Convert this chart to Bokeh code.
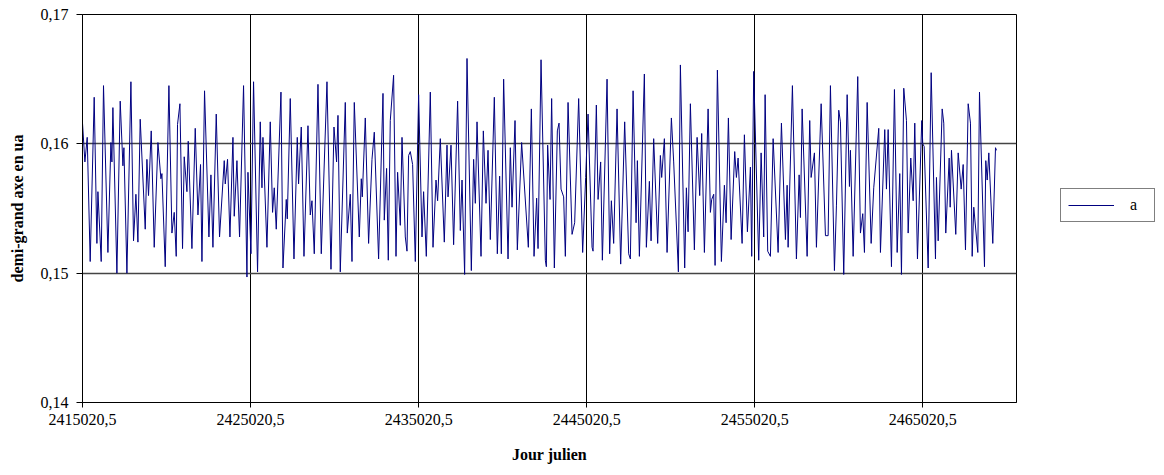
from bokeh.plotting import figure
from bokeh.layouts import row
from bokeh.models import Range1d, FixedTicker, CustomJSTickFormatter, Legend, LegendItem
from bokeh.embed import file_html
from bokeh.resources import INLINE

# Jour julien = JD0 + day offset
JD0 = 2415020.5
day_offset = [
    0, 143, 280, 458, 696, 857, 917, 1113, 1250, 1512,
    1690, 1750, 1809, 2047, 2244, 2405, 2464, 2643, 2881, 3036,
    3178, 3297, 3434, 3732, 3833, 3928, 4089, 4268, 4488, 4666,
    4726, 4922, 5142, 5321, 5458, 5577, 5654, 5797, 5952, 6053,
    6214, 6291, 6511, 6708, 6869, 7023, 7107, 7261, 7523, 7642,
    7761, 7958, 8154, 8434, 8494, 8630, 8773, 8952, 9029, 9190,
    9345, 9583, 9785, 9845, 10023, 10178, 10416, 10577, 10678, 10737,
    10975, 11172, 11309, 11410, 11529, 11809, 11928, 12124, 12184, 12362,
    12583, 12779, 12856, 13017, 13178, 13416, 13553, 13654, 13791, 14011,
    14207, 14547, 14785, 14963, 15118, 15201, 15338, 15636, 15755, 15934,
    16035, 16172, 16469, 16588, 16648, 16826, 17023, 17225, 17362, 17618,
    17880, 17957, 18094, 18195, 18314, 18511, 18654, 18749, 18910, 19011,
    19207, 19308, 19404, 19505, 19642, 19802, 19999, 20201, 20296, 20457,
    20695, 20856, 21034, 21130, 21290, 21528, 21689, 21749, 21927, 22082,
    22320, 22481, 22582, 22737, 22879, 23136, 23272, 23373, 23475, 23713,
    23850, 24010, 24129, 24266, 24504, 24683, 24820, 24921, 25058, 25320,
    25457, 25558, 25736, 25873, 26129, 26528, 26707, 26867, 27022, 27105,
    27284, 27540, 27600, 27677, 27820, 27915, 28076, 28254, 28355, 28474,
    28629, 28730, 28891, 29129, 29284, 29522, 29760, 29939, 30081, 30319,
    30379, 30575, 30677, 30831, 30933, 31212, 31367, 31468, 31605, 31807,
    32022, 32260, 32498, 32599, 32760, 32938, 33016, 33135, 33432, 33551,
    33730, 33831, 33986, 34224, 34385, 34462, 34623, 34783, 35039, 35176,
    35456, 35575, 35831, 35932, 36033, 36170, 36408, 36569, 36724, 36843,
    37004, 37224, 37361, 37438, 37557, 37640, 37777, 38015, 38194, 38295,
    38432, 38593, 38807, 38908, 39009, 39247, 39384, 39563, 39742, 39819,
    39938, 40236, 40378, 40533, 40616, 40771, 40932, 41093, 41390, 41587,
    41825, 41926, 41985, 42241, 42479, 42640, 42718, 42819, 43116, 43271,
    43354, 43551, 43670, 43950, 44206, 44366, 44503, 44741, 44860, 44997,
    45098, 45295, 45497, 45634, 45693, 45854, 46128, 46289, 46426, 46527,
    46687, 46925, 47080, 47378, 47479, 47735, 47836, 47937, 48134, 48312,
    48473, 48628, 48729, 48866, 49027, 49128, 49283, 49425, 49521, 49681,
    49937, 49997, 50080, 50318, 50497, 50753, 50812, 50913, 51152, 51247,
    51366, 51568, 51628, 51705, 51961, 52104, 52282, 52401, 52538, 52699,
    52836, 52937, 53032, 53272, 53372, 53669, 53747, 53830, 53927, 54163,
    54324, 54384,
]
demi_grand_axe = [
    0.1616, 0.1586, 0.1605, 0.1509, 0.1636, 0.1523, 0.1563, 0.1509, 0.1645, 0.1516,
    0.1601, 0.1586, 0.1628, 0.1500, 0.1633, 0.1583, 0.1597, 0.1500, 0.1648, 0.1525,
    0.1561, 0.1524, 0.1619, 0.1534, 0.1588, 0.1560, 0.1610, 0.1520, 0.1601, 0.1573,
    0.1577, 0.1505, 0.1645, 0.1531, 0.1547, 0.1513, 0.1615, 0.1631, 0.1519, 0.1590,
    0.1563, 0.1602, 0.1519, 0.1612, 0.1545, 0.1584, 0.1509, 0.1641, 0.1528, 0.1576,
    0.1520, 0.1623, 0.1528, 0.1587, 0.1569, 0.1588, 0.1528, 0.1605, 0.1544, 0.1587,
    0.1528, 0.1645, 0.1497, 0.1578, 0.1515, 0.1648, 0.1501, 0.1617, 0.1566, 0.1605,
    0.1520, 0.1617, 0.1547, 0.1566, 0.1534, 0.1640, 0.1504, 0.1557, 0.1542, 0.1635,
    0.1511, 0.1605, 0.1569, 0.1613, 0.1513, 0.1614, 0.1545, 0.1556, 0.1515, 0.1646,
    0.1515, 0.1648, 0.1503, 0.1613, 0.1586, 0.1622, 0.1501, 0.1632, 0.1531, 0.1561,
    0.1509, 0.1632, 0.1528, 0.1573, 0.1559, 0.1620, 0.1523, 0.1588, 0.1609, 0.1511,
    0.1639, 0.1541, 0.1581, 0.1510, 0.1618, 0.1653, 0.1513, 0.1578, 0.1537, 0.1605,
    0.1528, 0.1517, 0.1591, 0.1594, 0.1584, 0.1509, 0.1638, 0.1528, 0.1563, 0.1513,
    0.1640, 0.1520, 0.1572, 0.1556, 0.1604, 0.1524, 0.1599, 0.1559, 0.1599, 0.1522,
    0.1633, 0.1533, 0.1572, 0.1499, 0.1666, 0.1502, 0.1588, 0.1554, 0.1617, 0.1513,
    0.1610, 0.1554, 0.1595, 0.1526, 0.1636, 0.1515, 0.1575, 0.1515, 0.1650, 0.1511,
    0.1597, 0.1551, 0.1618, 0.1518, 0.1601, 0.1520, 0.1627, 0.1513, 0.1558, 0.1519,
    0.1665, 0.1510, 0.1505, 0.1599, 0.1557, 0.1635, 0.1504, 0.1610, 0.1616, 0.1565,
    0.1559, 0.1513, 0.1632, 0.1530, 0.1539, 0.1635, 0.1516, 0.1574, 0.1623, 0.1520,
    0.1517, 0.1630, 0.1557, 0.1586, 0.1510, 0.1650, 0.1515, 0.1556, 0.1523, 0.1627,
    0.1507, 0.1617, 0.1515, 0.1511, 0.1641, 0.1539, 0.1587, 0.1513, 0.1654, 0.1520,
    0.1571, 0.1525, 0.1604, 0.1523, 0.1591, 0.1574, 0.1604, 0.1516, 0.1620, 0.1586,
    0.1501, 0.1661, 0.1504, 0.1566, 0.1532, 0.1631, 0.1518, 0.1605, 0.1560, 0.1608,
    0.1516, 0.1627, 0.1547, 0.1557, 0.1561, 0.1506, 0.1657, 0.1509, 0.1568, 0.1539,
    0.1620, 0.1526, 0.1594, 0.1574, 0.1589, 0.1523, 0.1607, 0.1532, 0.1582, 0.1513,
    0.1656, 0.1510, 0.1593, 0.1528, 0.1638, 0.1517, 0.1513, 0.1604, 0.1516, 0.1616,
    0.1526, 0.1568, 0.1520, 0.1645, 0.1511, 0.1576, 0.1543, 0.1627, 0.1513, 0.1618,
    0.1574, 0.1593, 0.1520, 0.1631, 0.1529, 0.1529, 0.1645, 0.1502, 0.1552, 0.1626,
    0.1617, 0.1499, 0.1638, 0.1567, 0.1595, 0.1513, 0.1652, 0.1531, 0.1546, 0.1516,
    0.1632, 0.1523, 0.1566, 0.1612, 0.1516, 0.1611, 0.1565, 0.1611, 0.1505, 0.1642,
    0.1516, 0.1577, 0.1499, 0.1643, 0.1618, 0.1531, 0.1589, 0.1556, 0.1616, 0.1511,
    0.1618, 0.1600, 0.1598, 0.1504, 0.1655, 0.1511, 0.1574, 0.1525, 0.1627, 0.1616,
    0.1531, 0.1589, 0.1551, 0.1595, 0.1530, 0.1593, 0.1565, 0.1584, 0.1518, 0.1631,
    0.1616, 0.1513, 0.1551, 0.1516, 0.1640, 0.1505, 0.1587, 0.1572, 0.1593, 0.1523,
    0.1597, 0.1595,
]
x_ticks = [2415020.5, 2425020.5, 2435020.5, 2445020.5, 2455020.5, 2465020.5]
y_ticks = [0.14, 0.15, 0.16, 0.17]
x_end = 2470594.5
series_name = "a"

jour = [JD0 + d for d in day_offset]

FONT = "Liberation Serif"
NAVY = "#000080"

p = figure(width=1024, height=467, output_backend="svg", toolbar_location=None,
           x_range=Range1d(JD0, x_end), y_range=Range1d(0.14, 0.17),
           min_border_left=82, min_border_right=8, min_border_top=14, min_border_bottom=65,
           background_fill_color="white", border_fill_color="white")

p.line(jour, demi_grand_axe, line_color=NAVY, line_width=1)

p.outline_line_color = "black"
p.outline_line_width = 1

p.xaxis.ticker = FixedTicker(ticks=x_ticks)
p.yaxis.ticker = FixedTicker(ticks=y_ticks)
p.xaxis.formatter = CustomJSTickFormatter(code="return tick.toFixed(1).replace('.', ',');")
p.yaxis.formatter = CustomJSTickFormatter(code="return tick.toFixed(2).replace('.', ',');")

for ax in (p.xaxis[0], p.yaxis[0]):
    ax.axis_line_color = "black"
    ax.major_tick_line_color = "black"
    ax.minor_tick_line_color = None
    ax.major_tick_in = 0
    ax.major_label_text_font = FONT
    ax.major_label_text_font_size = "16px"
    ax.major_label_text_color = "black"
    ax.axis_label_text_font = FONT
    ax.axis_label_text_font_size = "16px"
    ax.axis_label_text_font_style = "bold"
    ax.axis_label_text_color = "black"

p.xaxis.major_tick_out = 5
p.xaxis.major_label_standoff = 6
p.xaxis.axis_label = "Jour julien"
p.xaxis.axis_label_standoff = 18

p.yaxis.major_tick_out = 6
p.yaxis.major_label_standoff = 8
p.yaxis.axis_label = "demi-grand axe en ua"
p.yaxis.axis_label_standoff = 12

p.xgrid.grid_line_color = "black"
p.xgrid.grid_line_width = 1
p.ygrid.grid_line_color = "#444444"
p.ygrid.grid_line_width = 1.3

# legend panel (separate small figure to the right of the chart; its ranges
# lie away from the data so only the legend is visible there)
q = figure(width=132, height=467, output_backend="svg", toolbar_location=None,
           x_range=Range1d(0, 1), y_range=Range1d(0, 1),
           min_border_left=0, min_border_right=0, min_border_top=14, min_border_bottom=65,
           background_fill_color="white", border_fill_color="white")
q.axis.visible = False
q.grid.visible = False
q.outline_line_color = None
r_leg = q.line(jour, demi_grand_axe, line_color=NAVY, line_width=1)

legend = Legend(items=[LegendItem(label=series_name, renderers=[r_leg])], location=(36, 180),
                padding=7, spacing=0, margin=0, glyph_width=46, glyph_height=16,
                label_standoff=16, label_width=17, label_height=16,
                label_text_font=FONT, label_text_font_size="16px", label_text_color="black",
                border_line_color="black", border_line_width=1,
                background_fill_color="white", background_fill_alpha=1)
q.add_layout(legend)

layout = row(p, q, spacing=0)

open("out.html", "w").write(file_html(layout, INLINE))
